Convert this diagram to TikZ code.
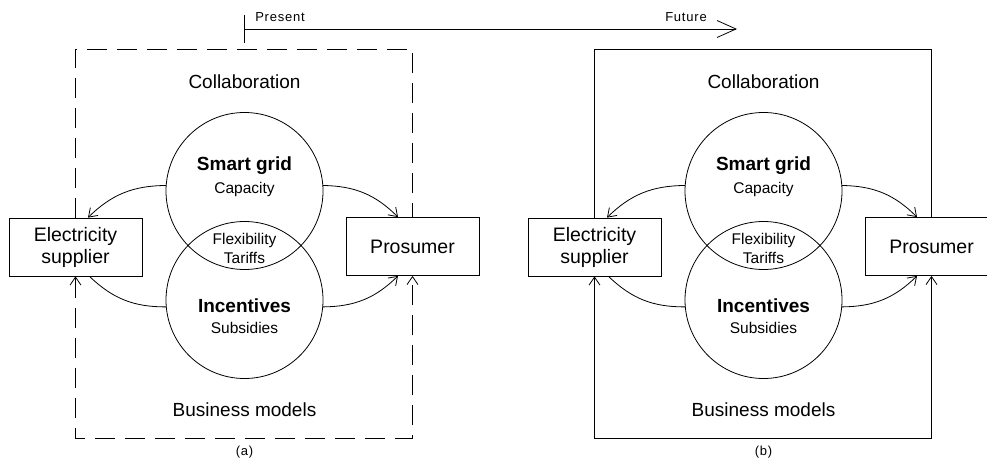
\documentclass[tikz,border=0pt]{standalone}
\usepackage{fontspec}
\setmainfont{Liberation Sans}
\usetikzlibrary{arrows.meta}

% one panel: #1 name suffix, #2 horizontal offset, #3 frame line style, #4 caption letter
\newcommand\drawpanel[4]{%
\begin{scope}[xshift=#2]
  \node[box] (sup#1) at (75.5,247) {Electricity\\supplier};
  \node[box] (pro#1) at (412.5,246.5) {Prosumer};
  \node[ring] (up#1) at (244.5,191) {};
  \node[ring] (low#1) at (244.5,300) {};
  \node[headb] (sg#1) at (244.5,166) {Smart grid};
  \node[small] (cap#1) at (244.5,189) {Capacity};
  \node[small, align=center] (lens#1) at (244.5,248) {Flexibility\\Tariffs};
  \node[headb] (inc#1) at (244.5,306) {Incentives};
  \node[small] (sub#1) at (244.5,328) {Subsidies};
  \node[head] (col#1) at (244.5,82) {Collaboration};
  \node[head] (bm#1) at (244.5,410) {Business models};
  \node[note] (lbl#1) at (244.5,452) {(#4)};
  % frame
  \coordinate (tl#1) at (75.5,49);
  \coordinate (tr#1) at (412.5,49);
  \coordinate (bl#1) at (75.5,438);
  \coordinate (br#1) at (412.5,438);
  \draw[#3] (sup#1.north) -- (tl#1) -- (tr#1) -- (pro#1.north);
  \draw[#3, {Straight Barb[length=8pt,width=11pt]}-{Straight Barb[length=8pt,width=11pt]}]
    (sup#1.south) -- (bl#1) -- (br#1) -- (pro#1.south);
  % links between the circles and the actors
  \draw[link] (up#1.176) to[bend right=22] ([xshift=12.5pt]sup#1.north);
  \draw ([xshift=14pt]sup#1.south) to[bend right=22] (low#1.185);
  \draw[link] (up#1.4) to[bend left=22] ([xshift=-14.5pt]pro#1.north);
  \draw[link] (low#1.355) to[bend right=22] ([xshift=-14.5pt]pro#1.south);
\end{scope}}

\begin{document}
\begin{tikzpicture}[x=1pt, y=-1pt, line width=0.8pt,
  box/.style={draw, fill=white, inner sep=0pt, minimum width=133pt, minimum height=58pt,
    align=center, font=\fontsize{19.5}{22}\selectfont},
  ring/.style={draw, circle, minimum size=157pt, inner sep=0pt},
  head/.style={inner sep=0pt, font=\fontsize{19}{22}\selectfont},
  headb/.style={inner sep=0pt, font=\fontsize{19}{22}\selectfont\bfseries},
  small/.style={inner sep=0pt, font=\fontsize{15.5}{19}\selectfont},
  note/.style={inner sep=0pt, font=\fontsize{13}{15}\selectfont\addfontfeature{LetterSpace=6}},
  link/.style={-{Straight Barb[length=8pt,width=11pt]}},
]
\useasboundingbox[fill=white] (0,0) rectangle (987,465);
\clip (0,0) rectangle (987,465);

% time axis
\coordinate (ttop) at (244,15);
\coordinate (tbot) at (244,43);
\coordinate (t0) at (244,29);
\coordinate (t1) at (737,29);
\draw (ttop) -- (tbot);
\draw[-{Straight Barb[length=19pt,width=17pt]}] (t0) -- (t1);
\node[note] (present) at (280,17) {Present};
\node[note] (future) at (686,17) {Future};

\drawpanel{a}{0pt}{dash pattern=on 20pt off 10pt}{a}
\drawpanel{b}{519pt}{solid}{b}
\end{tikzpicture}
\end{document}
